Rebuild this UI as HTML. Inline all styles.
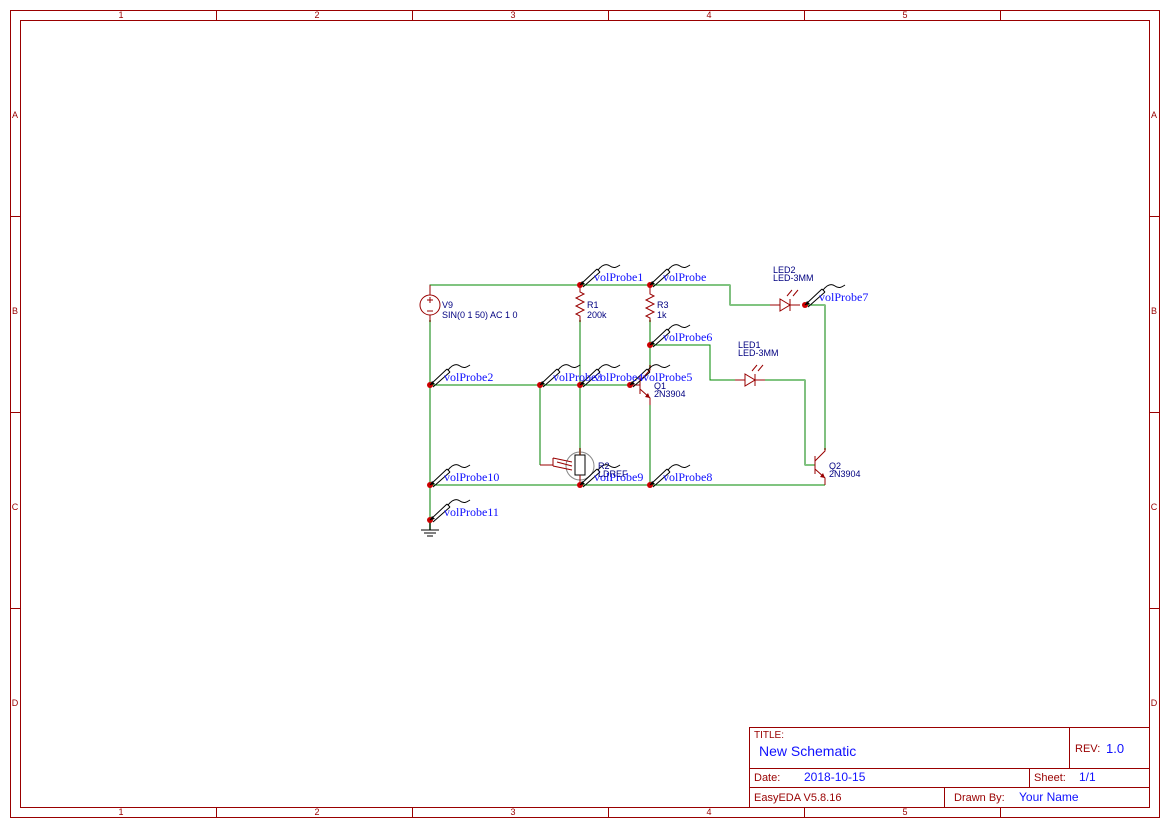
<!DOCTYPE html>
<html><head><meta charset="utf-8"><style>
html,body{margin:0;padding:0;background:#fff;}
svg{display:block;}
.f{font-family:"Liberation Sans",sans-serif;}
.p{font-family:"Liberation Serif",serif;font-size:12px;fill:#1010ff;}
.s{font-family:"Liberation Sans",sans-serif;font-size:9px;fill:#000080;}
</style></head><body>
<svg width="1169" height="827" viewBox="0 0 1169 827" xmlns="http://www.w3.org/2000/svg">
<defs>
<g id="probe">
<path d="M0,0 L17,-16 M3,2 L20,-13 M17,-16 L20,-13" stroke="#000" stroke-width="1" fill="none"/>
<path d="M0,0 L2,-4 L5,-1 Z" fill="#000"/>
<path d="M18,-15 C22,-20 26,-22 30,-19 C34,-16 37,-18 40,-20" stroke="#000" stroke-width="1" fill="none"/>
</g>
</defs>
<rect x="0" y="0" width="1169" height="827" fill="#fff"/>
<g stroke="#990000" fill="none" stroke-width="1">
<rect x="10.5" y="10.5" width="1149" height="807"/>
<rect x="20.5" y="20.5" width="1129" height="787"/>
<path d="M216.5,10V20M412.5,10V20M608.5,10V20M804.5,10V20M1000.5,10V20M216.5,807V817M412.5,807V817M608.5,807V817M804.5,807V817M1000.5,807V817M10,216.5H20M10,412.5H20M10,608.5H20M1149,216.5H1159M1149,412.5H1159M1149,608.5H1159"/>
<rect x="749.5" y="727.5" width="400" height="80"/>
<path d="M749,768.5H1149M749,787.5H1149M1069.5,727V768M1029.5,768V787M944.5,787V807"/>
</g>
<g class="f" font-size="9" fill="#990000" text-anchor="middle">
<text x="121" y="18">1</text><text x="317" y="18">2</text><text x="513" y="18">3</text><text x="709" y="18">4</text><text x="905" y="18">5</text>
<text x="121" y="815">1</text><text x="317" y="815">2</text><text x="513" y="815">3</text><text x="709" y="815">4</text><text x="905" y="815">5</text>
<text x="15" y="118">A</text><text x="15" y="314">B</text><text x="15" y="510">C</text><text x="15" y="706">D</text>
<text x="1154" y="118">A</text><text x="1154" y="314">B</text><text x="1154" y="510">C</text><text x="1154" y="706">D</text>
</g>
<g class="f" font-size="11">
<text x="754" y="738" fill="#990000" font-size="10">TITLE:</text>
<text x="759" y="756" fill="#1010ff" font-size="14">New Schematic</text>
<text x="1075" y="752" fill="#990000">REV:</text><text x="1106" y="753" fill="#1010ff" font-size="13">1.0</text>
<text x="754" y="781" fill="#990000">Date:</text><text x="804" y="781" fill="#1010ff" font-size="12">2018-10-15</text>
<text x="1034" y="781" fill="#990000">Sheet:</text><text x="1079" y="781" fill="#1010ff" font-size="12">1/1</text>
<text x="754" y="801" fill="#990000">EasyEDA V5.8.16</text>
<text x="954" y="801" fill="#990000">Drawn By:</text><text x="1019" y="801" fill="#1010ff" font-size="12">Your Name</text>
</g>
<!-- wires -->
<g stroke="#008800" stroke-width="1" fill="none">
<path d="M430,295V285H650H730V305H780M805,305H825V450M430,385H630M430,485H825M650,345H710V380H740M760,380H805V465H815"/>
</g>
<g stroke="#80c080" stroke-width="2" fill="none">
<path d="M430,320V530M580,320V455M650,320V368M650,405V485M540,385V465M825,305V450M805,380V465M730,285V305"/>
</g>
<!-- V9 -->
<circle cx="430" cy="305" r="10" stroke="#990000" fill="none"/>
<path d="M430,295V285M430,315V322M427,300H433M430,297V303M427,311H433" stroke="#990000"/>
<!-- resistors -->
<path d="M580,285V292L584,294L576,298L584,302L576,306L584,310L576,314L580,316V322" stroke="#990000" fill="none"/>
<path d="M650,285V294L654,296L646,300L654,304L646,308L654,312L646,316L650,318V322" stroke="#990000" fill="none"/>
<!-- LDR -->
<circle cx="580" cy="466" r="14" stroke="#888" fill="none"/>
<rect x="575" y="455" width="10" height="20" fill="#fff" stroke="#000"/>
<path d="M580,448V455M580,475V485" stroke="#990000"/>
<path d="M540,465H553M553,458V466M553,458L572,462M557,462L572,466M553,466L572,470" stroke="#990000" fill="none"/>
<!-- Q1 -->
<path d="M630,385H640M640,376V394M640,381L650,370V365M640,389L650,398V405" stroke="#990000" fill="none"/>
<path d="M650,398L645,397L648,393Z" fill="#990000"/>
<!-- Q2 -->
<path d="M815,465V465M815,456V474M815,461L825,451V448M815,469L825,478V485" stroke="#990000" fill="none"/>
<path d="M825,478L820,477L823,473Z" fill="#990000"/>
<!-- LEDs -->
<path d="M770,305H780M780,299V311L790,305Z M790,299V311M790,305H800" stroke="#990000" fill="none"/>
<path d="M787,296L792,290M793,296L798,290" stroke="#990000"/>
<path d="M735,380H745M745,374V386L755,380Z M755,374V386M755,380H765" stroke="#990000" fill="none"/>
<path d="M752,371L757,365M758,371L763,365" stroke="#990000"/>
<!-- ground -->
<path d="M430,520V530M421,530H439M424,533H436M427,536H433" stroke="#000"/>
<!-- dots -->
<g fill="#cc0000">
<circle cx="580" cy="285" r="3"/><circle cx="650" cy="285" r="3"/><circle cx="805" cy="305" r="3"/>
<circle cx="650" cy="345" r="3"/><circle cx="430" cy="385" r="3"/><circle cx="540" cy="385" r="3"/>
<circle cx="580" cy="385" r="3"/><circle cx="630" cy="385" r="3"/><circle cx="430" cy="485" r="3"/>
<circle cx="580" cy="485" r="3"/><circle cx="650" cy="485" r="3"/><circle cx="430" cy="520" r="3"/>
</g>
<!-- probes -->
<use href="#probe" x="580" y="285"/><use href="#probe" x="650" y="285"/><use href="#probe" x="805" y="305"/>
<use href="#probe" x="650" y="345"/><use href="#probe" x="430" y="385"/><use href="#probe" x="540" y="385"/>
<use href="#probe" x="580" y="385"/><use href="#probe" x="630" y="385"/><use href="#probe" x="430" y="485"/>
<use href="#probe" x="580" y="485"/><use href="#probe" x="650" y="485"/><use href="#probe" x="430" y="520"/>
<text class="p" x="594" y="281">volProbe1</text>
<text class="p" x="663" y="281">volProbe</text>
<text class="p" x="819" y="301">volProbe7</text>
<text class="p" x="663" y="341">volProbe6</text>
<text class="p" x="444" y="381">volProbe2</text>
<text class="p" x="553" y="381">volProbe3</text>
<text class="p" x="594" y="381">volProbe4</text>
<text class="p" x="643" y="381">volProbe5</text>
<text class="p" x="444" y="481">volProbe10</text>
<text class="p" x="594" y="481">volProbe9</text>
<text class="p" x="663" y="481">volProbe8</text>
<text class="p" x="444" y="516">volProbe11</text>
<!-- part labels -->
<text class="s" x="442" y="308">V9</text><text class="s" x="442" y="318">SIN(0 1 50) AC 1 0</text>
<text class="s" x="587" y="308">R1</text><text class="s" x="587" y="318">200k</text>
<text class="s" x="657" y="308">R3</text><text class="s" x="657" y="318">1k</text>
<text class="s" x="773" y="273">LED2</text><text class="s" x="773" y="281">LED-3MM</text>
<text class="s" x="738" y="348">LED1</text><text class="s" x="738" y="356">LED-3MM</text>
<text class="s" x="654" y="389">Q1</text><text class="s" x="654" y="397">2N3904</text>
<text class="s" x="829" y="469">Q2</text><text class="s" x="829" y="477">2N3904</text>
<text class="s" x="598" y="469">R2</text><text class="s" x="598" y="477">LDREF</text>
</svg>
</body></html>
